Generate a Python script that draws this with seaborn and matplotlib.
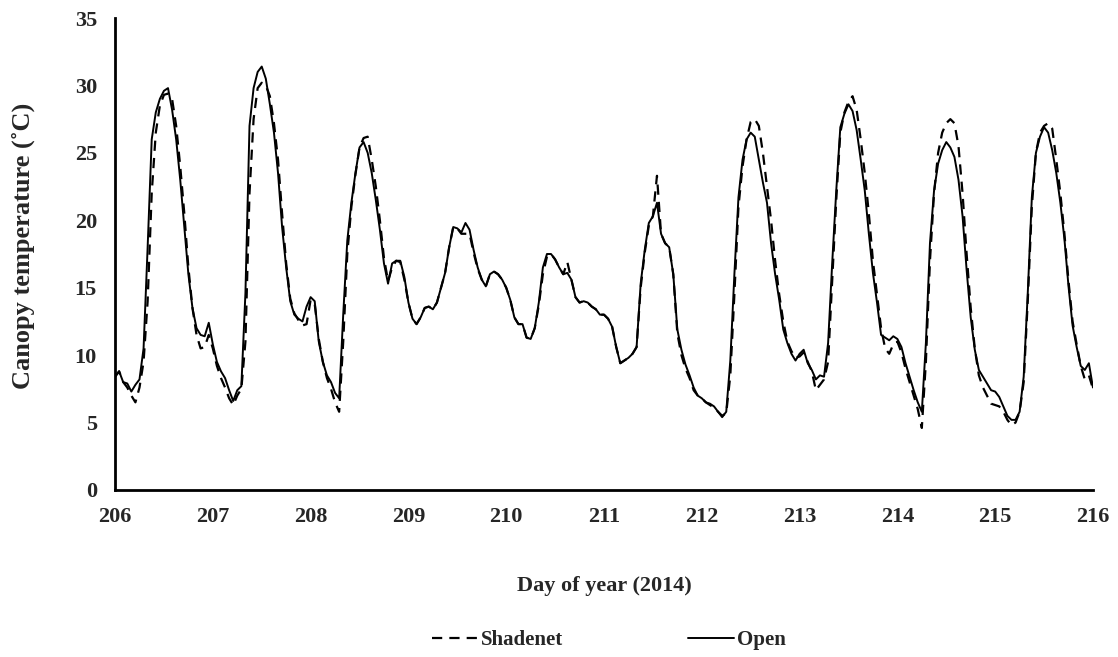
import numpy as np
import pandas as pd
import seaborn as sns
import matplotlib.pyplot as plt

# hourly canopy temperature (deg C), one list per day of year, hours 0..23
open_206 = [8.4, 8.8, 8.0, 7.9, 7.3, 7.8, 8.2, 10.5, 18.0, 26.0, 28.0, 29.0,
            29.6, 29.8, 28.2, 26.0, 23.0, 19.5, 16.0, 13.5, 12.0, 11.5, 11.4, 12.4]
open_207 = [10.8, 9.5, 8.8, 8.3, 7.4, 6.6, 7.4, 7.7, 14.6, 27.0, 29.8, 31.0,
            31.4, 30.5, 28.6, 26.5, 23.5, 19.5, 16.5, 14.0, 13.0, 12.7, 12.5, 13.6]
open_208 = [14.3, 14.0, 11.0, 9.5, 8.5, 8.0, 7.2, 6.8, 13.0, 18.5, 21.3, 23.5,
            25.4, 25.8, 25.0, 23.5, 21.5, 19.3, 16.8, 15.3, 16.8, 17.0, 17.0, 15.8]
open_209 = [13.9, 12.7, 12.3, 12.8, 13.5, 13.6, 13.4, 13.9, 15.0, 16.1, 18.0, 19.5,
            19.4, 19.1, 19.8, 19.3, 17.8, 16.5, 15.6, 15.1, 16.0, 16.2, 16.0, 15.6]
open_210 = [15.0, 14.1, 12.8, 12.3, 12.3, 11.3, 11.2, 12.0, 13.9, 16.5, 17.5, 17.5,
            17.1, 16.5, 16.0, 16.1, 15.6, 14.3, 13.9, 14.0, 13.9, 13.6, 13.4, 13.0]
open_211 = [13.0, 12.7, 12.1, 10.6, 9.4, 9.6, 9.8, 10.1, 10.6, 15.3, 17.8, 19.8,
            20.3, 21.3, 19.0, 18.3, 18.0, 16.0, 11.9, 10.4, 9.3, 8.5, 7.6, 7.0]
open_212 = [6.8, 6.5, 6.4, 6.2, 5.8, 5.4, 5.8, 9.6, 16.0, 21.7, 24.5, 26.0,
            26.5, 26.2, 24.5, 22.8, 21.3, 18.3, 16.0, 14.1, 11.9, 10.9, 10.1, 9.6]
open_213 = [10.1, 10.4, 9.4, 8.9, 8.2, 8.5, 8.4, 10.9, 16.8, 22.2, 26.9, 27.9,
            28.6, 28.1, 26.7, 24.5, 22.2, 19.0, 16.1, 13.9, 11.5, 11.3, 11.1, 11.4]
open_214 = [11.2, 10.6, 9.4, 8.4, 7.4, 6.5, 5.8, 10.9, 18.3, 22.2, 24.2, 25.2,
            25.8, 25.4, 24.7, 23.0, 20.3, 16.3, 12.8, 10.4, 8.9, 8.4, 7.9, 7.4]
open_215 = [7.3, 6.9, 6.2, 5.5, 5.2, 5.2, 5.8, 8.4, 14.6, 21.7, 25.0, 26.2,
            26.9, 26.5, 25.2, 23.5, 21.3, 18.6, 15.1, 12.2, 10.6, 9.2, 8.9, 9.4]
open_216 = [7.6]

shade_206 = [8.4, 8.8, 8.0, 7.6, 7.0, 6.5, 7.6, 9.5, 14.0, 22.0, 26.5, 28.5,
             29.3, 29.4, 29.0, 27.0, 24.0, 20.5, 16.5, 13.5, 11.5, 10.5, 10.6, 11.5]
shade_207 = [10.5, 9.2, 8.3, 7.6, 6.8, 6.3, 7.0, 7.5, 11.0, 22.0, 27.5, 29.8,
             30.2, 30.0, 29.2, 27.2, 24.5, 20.5, 16.8, 14.2, 13.1, 12.6, 12.2, 12.3]
shade_208 = [14.1, 13.8, 11.2, 9.5, 8.3, 7.5, 6.5, 5.8, 11.0, 17.5, 21.0, 23.4,
             25.4, 26.1, 26.2, 24.5, 22.5, 20.0, 17.2, 15.5, 16.5, 17.0, 16.9, 15.6]
shade_209 = [13.9, 12.7, 12.3, 12.8, 13.5, 13.6, 13.4, 13.9, 15.0, 16.1, 18.0, 19.5,
             19.4, 19.0, 19.0, 19.0, 17.6, 16.4, 15.6, 15.1, 16.0, 16.2, 16.0, 15.6]
shade_210 = [15.0, 14.1, 12.8, 12.3, 12.3, 11.3, 11.2, 12.0, 13.7, 16.0, 17.3, 17.5,
             17.1, 16.5, 16.0, 16.9, 15.6, 14.3, 13.9, 14.0, 13.9, 13.6, 13.4, 13.0]
shade_211 = [13.0, 12.7, 12.1, 10.6, 9.4, 9.6, 9.8, 10.1, 10.6, 15.0, 17.6, 19.6,
             20.3, 23.3, 19.0, 18.3, 18.0, 16.0, 11.6, 10.0, 9.0, 8.3, 7.4, 7.0]
shade_212 = [6.8, 6.5, 6.3, 6.1, 5.8, 5.5, 5.7, 8.5, 14.5, 21.0, 24.0, 26.0,
             27.3, 27.5, 27.0, 25.0, 22.5, 20.0, 17.0, 14.5, 12.5, 11.0, 10.3, 9.8]
shade_213 = [9.9, 10.2, 9.5, 8.8, 7.4, 7.8, 8.2, 9.5, 15.5, 21.5, 26.5, 28.0,
             28.8, 29.2, 28.2, 26.0, 23.5, 20.5, 17.0, 14.5, 12.0, 10.5, 10.1, 10.8]
shade_214 = [11.0, 10.2, 9.0, 8.0, 7.0, 6.0, 4.6, 9.5, 17.0, 22.0, 25.0, 26.5,
             27.2, 27.5, 27.2, 25.5, 22.0, 17.5, 13.5, 10.5, 8.5, 7.6, 7.0, 6.4]
shade_215 = [6.3, 6.2, 5.8, 5.2, 4.8, 5.0, 5.8, 8.0, 14.0, 21.0, 25.0, 26.5,
             27.0, 27.2, 26.8, 24.5, 22.0, 19.0, 15.5, 12.5, 10.8, 9.2, 8.2, 8.5]
shade_216 = [7.5]

open_temp = (open_206 + open_207 + open_208 + open_209 + open_210 + open_211
             + open_212 + open_213 + open_214 + open_215 + open_216)
shade_temp = (shade_206 + shade_207 + shade_208 + shade_209 + shade_210 + shade_211
              + shade_212 + shade_213 + shade_214 + shade_215 + shade_216)
day = 206 + np.arange(len(open_temp)) / 24.0

df = pd.DataFrame({"day": day, "Shadenet": shade_temp, "Open": open_temp})

sns.set_style("white")
plt.rcParams["font.family"] = ["Liberation Serif", "DejaVu Serif"]
plt.rcParams["font.weight"] = "bold"

fig = plt.figure(figsize=(11.18, 6.57), dpi=100)
ax = fig.add_axes([0.1029, 0.2542, 0.8747, 0.7184])

sns.lineplot(data=df, x="day", y="Shadenet", ax=ax, color="black",
             linewidth=1.6, dashes=False, label="Shadenet")
sns.lineplot(data=df, x="day", y="Open", ax=ax, color="black",
             linewidth=1.4, label="Open")
ax.lines[0].set_dashes((4.6, 3.2))

ax.set_xlim(206, 216)
ax.set_ylim(0, 35)
ax.set_xticks(np.arange(206, 217, 1))
ax.set_yticks(np.arange(0, 36, 5))
ax.tick_params(axis="x", direction="out", length=4, width=2, labelsize=16, pad=8)
ax.tick_params(axis="y", direction="out", length=5, width=2, labelsize=16, pad=8)
for lab in ax.get_xticklabels() + ax.get_yticklabels():
    lab.set_fontweight("bold")

for side in ["top", "right"]:
    ax.spines[side].set_visible(False)
for side in ["left", "bottom"]:
    ax.spines[side].set_color("black")
    ax.spines[side].set_linewidth(2)

ax.set_xlabel("Day of year (2014)", fontsize=16, fontweight="bold")
ax.set_ylabel("Canopy temperature (\u02daC)", fontsize=19, fontweight="bold")
ax.xaxis.set_label_coords(0.5, -0.183)
ax.yaxis.set_label_coords(-0.082, 0.517)

handles, labels = ax.get_legend_handles_labels()
ax.get_legend().remove()
fig.legend(handles, labels, loc="center", bbox_to_anchor=(0.545, 1 - 640 / 657),
           ncol=2, frameon=False, fontsize=15, handlelength=2.2,
           handletextpad=0.15, columnspacing=6.0)

fig.savefig("out.png", dpi=100)
